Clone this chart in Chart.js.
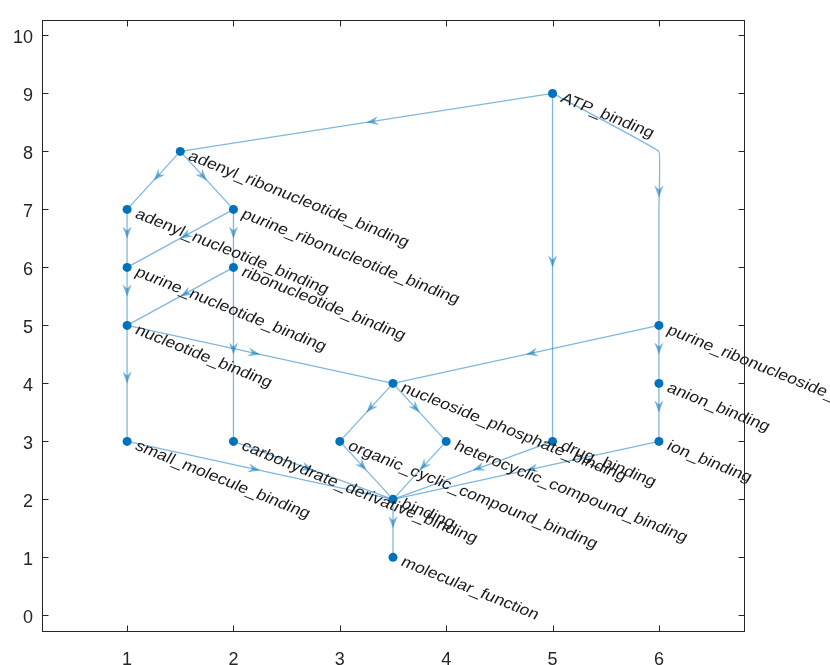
<!DOCTYPE html>
<html>
<head>
<meta charset="utf-8">
<script src="https://cdn.jsdelivr.net/npm/chart.js@4/dist/chart.umd.min.js"></script>
<style>
  html, body { margin: 0; padding: 0; background: #fff; }
  canvas { display: block; }
</style>
</head>
<body>
<canvas id="graph" width="830" height="665"></canvas>
<script>
const nodeNames = [
    'ATP_binding', 'adenyl_ribonucleotide_binding', 'adenyl_nucleotide_binding',
    'purine_ribonucleotide_binding', 'purine_nucleotide_binding', 'ribonucleotide_binding',
    'nucleotide_binding', 'purine_ribonucleoside_triphosphate_binding', 'anion_binding',
    'nucleoside_phosphate_binding', 'small_molecule_binding', 'carbohydrate_derivative_binding',
    'organic_cyclic_compound_binding', 'heterocyclic_compound_binding', 'drug_binding',
    'ion_binding', 'binding', 'molecular_function'
];
const nodeX = [5, 1.5, 1, 2, 1, 2, 1, 6, 6, 3.5, 1, 2, 3, 4, 5, 6, 3.5, 3.5];
const nodeY = [9, 8, 7, 7, 6, 6, 5, 5, 4, 4, 3, 3, 3, 3, 3, 3, 2, 1];

const edgeFrom = [0, 0, 0, 1, 1, 2, 3, 3, 4, 5, 5, 6, 6, 7, 7, 8, 9, 9, 10, 11, 12, 13, 14, 15, 16];
const edgeTo   = [1, 14, 7, 2, 3, 4, 4, 5, 6, 6, 11, 9, 10, 9, 8, 15, 12, 13, 16, 16, 16, 16, 16, 16, 17];

// the one edge routed through layer points (ATP_binding -> purine_ribonucleoside_triphosphate_binding)
const bentEdge = 2;
const bendX = [6, 6, 6];
const bendY = [8, 7, 6];

const xTicks = [1, 2, 3, 4, 5, 6];
const yTicks = [0, 1, 2, 3, 4, 5, 6, 7, 8, 9, 10];

const nodeColor = '#0072BD';
const edgeColor = 'rgba(0, 114, 189, 0.5)';
const axisColor = '#262626';
const fontFamily = '"Liberation Sans", Arial, Helvetica, sans-serif';

function edgePath(i) {
    const pts = [{ x: nodeX[edgeFrom[i]], y: nodeY[edgeFrom[i]] }];
    if (i === bentEdge) {
        bendX.forEach((bx, k) => pts.push({ x: bx, y: bendY[k] }));
    }
    pts.push({ x: nodeX[edgeTo[i]], y: nodeY[edgeTo[i]] });
    return pts;
}

const edgeSets = edgeFrom.map((f, i) => ({
    type: 'line',
    data: edgePath(i),
    borderColor: edgeColor,
    borderWidth: 1.3,
    pointRadius: 0,
    tension: i === bentEdge ? 0.05 : 0,
    order: 2
}));

const nodeSet = {
    type: 'scatter',
    data: nodeX.map((x, i) => ({ x: x, y: nodeY[i] })),
    backgroundColor: nodeColor,
    borderWidth: 0,
    pointRadius: 4.5,
    order: 0
};

function drawArrow(ctx, tx, ty, ang) {
    const len = 12, half = 4.5, notch = 8;
    ctx.save();
    ctx.translate(tx, ty);
    ctx.rotate(ang);
    ctx.beginPath();
    ctx.moveTo(0, 0);
    ctx.lineTo(-len, -half);
    ctx.lineTo(-notch, 0);
    ctx.lineTo(-len, half);
    ctx.closePath();
    ctx.fillStyle = 'rgba(0, 114, 189, 0.55)';
    ctx.fill();
    ctx.restore();
}

const graphDecor = {
    id: 'graphDecor',
    afterDatasetsDraw(chart) {
        const ctx = chart.ctx;
        const a = chart.chartArea;
        const xs = chart.scales.x, ys = chart.scales.y;

        // arrow heads, tip at half of the path length
        edgeFrom.forEach((f, i) => {
            const pts = edgePath(i);
            let total = 0;
            const seg = [];
            for (let k = 1; k < pts.length; k++) {
                const d = Math.hypot(pts[k].x - pts[k - 1].x, pts[k].y - pts[k - 1].y);
                seg.push(d);
                total += d;
            }
            let rest = total / 2, k = 0;
            while (rest > seg[k] && k < seg.length - 1) { rest -= seg[k]; k++; }
            const p0 = pts[k], p1 = pts[k + 1];
            const t = rest / seg[k];
            const mx = p0.x + (p1.x - p0.x) * t, my = p0.y + (p1.y - p0.y) * t;
            const ax = xs.getPixelForValue(mx), ay = ys.getPixelForValue(my);
            const ang = Math.atan2(ys.getPixelForValue(p1.y) - ys.getPixelForValue(p0.y),
                                   xs.getPixelForValue(p1.x) - xs.getPixelForValue(p0.x));
            drawArrow(ctx, ax, ay, ang);
        });

        // node labels
        ctx.save();
        ctx.font = '15px ' + fontFamily;
        ctx.fillStyle = '#1a1a1a';
        ctx.textBaseline = 'middle';
        ctx.textAlign = 'left';
        nodeNames.forEach((name, i) => {
            ctx.save();
            ctx.translate(xs.getPixelForValue(nodeX[i]) + 9, ys.getPixelForValue(nodeY[i]) + 4);
            ctx.scale(1.2, 1);
            ctx.rotate(0.45);
            ctx.fillText(name, 0, 0);
            ctx.restore();
        });
        ctx.restore();

        // axes box with inward ticks on all four sides
        ctx.save();
        ctx.strokeStyle = axisColor;
        ctx.lineWidth = 1;
        const L = Math.round(a.left) + 0.5, R = Math.round(a.right) + 0.5;
        const T = Math.round(a.top) + 0.5, B = Math.round(a.bottom) + 0.5;
        ctx.strokeRect(L, T, R - L, B - T);
        ctx.beginPath();
        xTicks.forEach(v => {
            const px = Math.round(xs.getPixelForValue(v)) + 0.5;
            ctx.moveTo(px, B); ctx.lineTo(px, B - 6);
            ctx.moveTo(px, T); ctx.lineTo(px, T + 6);
        });
        yTicks.forEach(v => {
            const py = Math.round(ys.getPixelForValue(v)) + 0.5;
            ctx.moveTo(L, py); ctx.lineTo(L + 6, py);
            ctx.moveTo(R, py); ctx.lineTo(R - 6, py);
        });
        ctx.stroke();
        ctx.restore();
    }
};

new Chart(document.getElementById('graph').getContext('2d'), {
    data: { datasets: [nodeSet, ...edgeSets] },
    options: {
        responsive: false,
        animation: false,
        layout: { padding: { top: 15, right: 86, left: 0, bottom: 0 } },
        plugins: { legend: { display: false }, tooltip: { enabled: false } },
        scales: {
            x: {
                type: 'linear',
                min: 0.2,
                max: 6.8,
                grid: { display: false, drawTicks: false },
                border: { display: false },
                afterBuildTicks: scale => { scale.ticks = xTicks.map(v => ({ value: v })); },
                afterFit: scale => { scale.height = 34; },
                ticks: { padding: 18, color: axisColor, font: { family: fontFamily, size: 18 } }
            },
            y: {
                type: 'linear',
                min: -0.27,
                max: 10.27,
                grid: { display: false, drawTicks: false },
                border: { display: false },
                afterBuildTicks: scale => { scale.ticks = yTicks.map(v => ({ value: v })); },
                afterFit: scale => { scale.width = 42; },
                ticks: { padding: 9, labelOffset: 3, color: axisColor, font: { family: fontFamily, size: 18 } }
            }
        }
    },
    plugins: [graphDecor]
});
</script>
</body>
</html>
